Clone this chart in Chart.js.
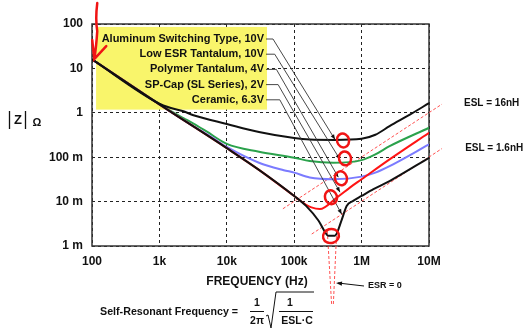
<!DOCTYPE html>
<html>
<head>
<meta charset="utf-8">
<script src="https://cdn.jsdelivr.net/npm/chart.js@4.4.1/dist/chart.umd.min.js"></script>
<style>
  html, body { margin: 0; padding: 0; background: #fff; }
</style>
</head>
<body>
<canvas id="myChart" width="529" height="331"></canvas>
<script>
// axes
var xTicks = [1e2, 1e3, 1e4, 1e5, 1e6, 1e7];
var xTickLabels = ['100', '1k', '10k', '100k', '1M', '10M'];
var yTicks = [1e-3, 1e-2, 1e-1, 1, 10, 100];
var yTickLabels = ['1 m', '10 m', '100 m', '1', '10', '100'];

var capNames = ['Aluminum Switching Type, 10V', 'Low ESR Tantalum, 10V', 'Polymer Tantalum, 4V', 'SP-Cap (SL Series), 2V', 'Ceramic, 6.3V'];
var capColors = ['#111111', '#2ba24c', '#7b7bff', '#ff1414', '#111111'];

// |Z| in ohm
var alumFreq = [100, 1e3, 1.44e3, 2.27e3, 3.2e3, 1e4, 3e4, 1e5, 1.7e5, 4e5, 1e6, 1.6e6, 2.6e6, 5.2e6, 1e7];
var alumZ = [16, 1.6, 1.3, 1.08, 0.88, 0.56, 0.37, 0.27, 0.25, 0.245, 0.26, 0.32, 0.5, 0.91, 1.65];

var tantFreq = [100, 1e3, 1.44e3, 2.27e3, 3.2e3, 5e3, 1e4, 3e4, 1e5, 1.7e5, 3.8e5, 1e6, 1.6e6, 2.6e6, 1e7];
var tantZ = [16, 1.58, 1.12, 0.76, 0.57, 0.38, 0.2, 0.133, 0.0975, 0.082, 0.075, 0.086, 0.116, 0.177, 0.46];

var polyFreq = [100, 1e3, 3e3, 6e3, 1e4, 3e4, 7e4, 1e5, 1.7e5, 3.8e5, 1e6, 1.6e6, 2.6e6, 1e7];
var polyZ = [16, 1.55, 0.53, 0.28, 0.17, 0.075, 0.051, 0.045, 0.035, 0.032, 0.0365, 0.045, 0.063, 0.194];

var spFreq = [100, 1e3, 1e4, 3e4, 1e5, 1.5e5, 1.8e5, 2.4e5, 4.3e5, 6.7e5, 1e6, 2.6e6, 1e7];
var spZ = [16, 1.55, 0.16, 0.052, 0.0134, 0.0085, 0.0074, 0.0068, 0.0124, 0.0207, 0.0318, 0.089, 0.354];

var ceramFreq = [100, 1e3, 1e4, 3e4, 1e5, 1.5e5, 2.3e5, 2.9e5, 3.2e5, 4e5, 5.1e5, 6e5, 7.5e5, 1e6, 1.5e6, 2.6e6, 1e7];
var ceramZ = [16, 1.55, 0.16, 0.052, 0.0134, 0.008, 0.0037, 0.002, 0.0017, 0.0017, 0.004, 0.008, 0.0104, 0.0134, 0.019, 0.029, 0.097];

// red dashed guide lines
var esl16Freq = [6.8e4, 1.56e7, 2.6e7];
var esl16Z = [0.0069, 1.57, 1.57];
var esl16Label = 'ESL = 16nH';
var esl1Freq = [1.82e5, 1.56e7, 2.8e7];
var esl1Z = [0.00186, 0.157, 0.157];
var esl1Label = 'ESL = 1.6nH';
var esrAFreq = [3.1e5, 3.6e5];
var esrAZ = [0.00217, 0.000045];
var esrBFreq = [4.27e5, 3.8e5];
var esrBZ = [0.00217, 0.000045];

// annotation anchors (Hz, ohm)
var boxFreq = [115, 3.95e4];
var boxZ = [86, 1.18];
var tipFreq = [4.03e5, 4.78e5, 4.51e5, 4.78e5, 5.07e5];
var tipZ = [0.25, 0.089, 0.0355, 0.0163, 0.0052];
var ringFreq = [5.3e5, 5.67e5, 4.94e5, 3.51e5, 3.51e5];
var ringZ = [0.238, 0.094, 0.0335, 0.01256, 0.00168];

var FONT = '"Liberation Sans", Arial, sans-serif';

function pts(f, z) {
  return f.map(function (v, i) { return { x: v, y: z[i] }; });
}
function px(chart, f, z) {
  return [chart.scales.x.getPixelForValue(f), chart.scales.y.getPixelForValue(z)];
}
function curve(f, z, color, order) {
  return {
    data: pts(f, z), showLine: true, borderColor: color, borderWidth: 2,
    pointRadius: 0, tension: 0.4, cubicInterpolationMode: 'monotone', order: order
  };
}
function guide(f, z) {
  return {
    data: pts(f, z), showLine: true, borderColor: 'rgba(255,50,50,0.85)', borderWidth: 1,
    borderDash: [3, 2], pointRadius: 0, tension: 0, clip: false, order: 10
  };
}
function arrowHead(ctx, from, to, len, wid) {
  var ang = Math.atan2(to[1] - from[1], to[0] - from[0]);
  ctx.beginPath();
  ctx.moveTo(to[0], to[1]);
  ctx.lineTo(to[0] - len * Math.cos(ang) + wid * Math.sin(ang), to[1] - len * Math.sin(ang) - wid * Math.cos(ang));
  ctx.lineTo(to[0] - len * Math.cos(ang) - wid * Math.sin(ang), to[1] - len * Math.sin(ang) + wid * Math.cos(ang));
  ctx.closePath();
  ctx.fill();
}

var decor = {
  id: 'decor',
  beforeDatasetsDraw: function (chart) {
    var ctx = chart.ctx, a = chart.chartArea;
    var p0 = px(chart, boxFreq[0], boxZ[0]), p1 = px(chart, boxFreq[1], boxZ[1]);
    ctx.save();
    ctx.fillStyle = '#f9f56b';
    ctx.fillRect(p0[0], p0[1], p1[0] - p0[0], p1[1] - p0[1]);
    ctx.strokeStyle = '#333';
    ctx.lineWidth = 1.5;
    ctx.strokeRect(a.left, a.top, a.right - a.left, a.bottom - a.top);
    ctx.restore();
  },
  afterDatasetsDraw: function (chart) {
    var ctx = chart.ctx, a = chart.chartArea;
    var boxR = px(chart, boxFreq[1], boxZ[1])[0];
    ctx.save();
    ctx.fillStyle = '#111';
    ctx.textBaseline = 'middle';

    // names + leader lines
    ctx.font = 'bold 11px ' + FONT;
    ctx.textAlign = 'right';
    for (var i = 0; i < capNames.length; i++) {
      var ry = a.top + 15 + 15.2 * i;
      ctx.fillText(capNames[i], boxR - 3, ry);
      var tip = px(chart, tipFreq[i], tipZ[i]);
      var corner = [boxR + 6 + 1.7 * i, ry];
      ctx.strokeStyle = '#333';
      ctx.lineWidth = 0.9;
      ctx.beginPath();
      ctx.moveTo(boxR - 1, ry);
      ctx.lineTo(corner[0], corner[1]);
      ctx.lineTo(tip[0], tip[1]);
      ctx.stroke();
      arrowHead(ctx, corner, tip, 5, 2);
    }

    // ESL labels
    ctx.textAlign = 'left';
    ctx.font = 'bold 10px ' + FONT;
    var e1 = px(chart, esl16Freq[2], esl16Z[2]);
    ctx.fillText(esl16Label, e1[0] + 7, e1[1] - 1);
    var e2 = px(chart, esl1Freq[2], esl1Z[2]);
    ctx.fillText(esl1Label, e2[0] + 6, e2[1]);

    // ESR = 0
    ctx.font = 'bold 9px ' + FONT;
    ctx.fillText('ESR = 0', 368, 286);
    ctx.strokeStyle = '#111';
    ctx.lineWidth = 1;
    ctx.beginPath();
    ctx.moveTo(364, 286);
    ctx.lineTo(338, 283);
    ctx.stroke();
    arrowHead(ctx, [364, 286], [336, 283], 6, 2.2);

    // axis titles
    ctx.textAlign = 'center';
    ctx.font = 'bold 12px ' + FONT;
    ctx.fillText('FREQUENCY (Hz)', 257, 282);
    ctx.font = 'bold 13px ' + FONT;
    ctx.fillText('Z', 18, 120);
    ctx.font = 'bold 11px ' + FONT;
    ctx.fillText('\u03A9', 37, 123);
    ctx.lineWidth = 1.3;
    ctx.beginPath();
    ctx.moveTo(9.5, 111); ctx.lineTo(9.5, 129);
    ctx.moveTo(25.5, 111); ctx.lineTo(25.5, 129);
    ctx.stroke();

    // self-resonant frequency formula
    ctx.textAlign = 'left';
    ctx.font = 'bold 10.7px ' + FONT;
    ctx.fillText('Self-Resonant Frequency =', 100, 312);
    ctx.textAlign = 'center';
    ctx.font = 'bold 10.5px ' + FONT;
    ctx.fillText('1', 257, 303);
    ctx.fillText('2\u03C0', 257, 321);
    ctx.fillText('1', 290, 303);
    ctx.fillText('ESL\u00B7C', 297, 321);
    ctx.lineWidth = 1;
    ctx.beginPath();
    ctx.moveTo(250, 311.5); ctx.lineTo(264, 311.5);
    ctx.moveTo(279, 311.5); ctx.lineTo(313, 311.5);
    ctx.stroke();
    ctx.beginPath();
    ctx.moveTo(266, 316);
    ctx.lineTo(268, 315);
    ctx.lineTo(271, 328);
    ctx.lineTo(276, 292);
    ctx.lineTo(314, 292);
    ctx.stroke();
    ctx.restore();
  },
  afterDraw: function (chart) {
    // red hand-drawn marks
    var ctx = chart.ctx;
    ctx.save();
    ctx.strokeStyle = '#f01414';
    ctx.fillStyle = '#f01414';
    ctx.lineWidth = 2.5;
    ctx.lineCap = 'round';
    for (var i = 0; i < ringFreq.length; i++) {
      var c = px(chart, ringFreq[i], ringZ[i]);
      var rx = i === 4 ? 8 : 6, ry = 7;
      ctx.beginPath();
      ctx.ellipse(c[0], c[1], rx, ry, -0.3, 0, Math.PI * 2);
      ctx.stroke();
    }
    var t = px(chart, 108, 16.2);
    ctx.beginPath();
    ctx.moveTo(t[0] + 3, t[1] - 56);
    ctx.quadraticCurveTo(t[0] + 1, t[1] - 40, t[0] + 3, t[1] - 28);
    ctx.quadraticCurveTo(t[0] + 2, t[1] - 12, t[0], t[1]);
    ctx.moveTo(t[0] - 2, t[1] - 19);
    ctx.lineTo(t[0], t[1]);
    ctx.lineTo(t[0] + 12, t[1] - 13);
    ctx.stroke();
    ctx.restore();
  }
};

var gridOpts = { color: '#222', lineWidth: 1, drawTicks: false };
var tickFont = { family: FONT, size: 12, weight: 'bold' };

var myChart = new Chart(document.getElementById('myChart'), {
  type: 'scatter',
  data: {
    datasets: [
      curve(ceramFreq, ceramZ, capColors[4], 0),
      curve(alumFreq, alumZ, capColors[0], 1),
      curve(spFreq, spZ, capColors[3], 2),
      curve(polyFreq, polyZ, capColors[2], 3),
      curve(tantFreq, tantZ, capColors[1], 4),
      guide(esl16Freq, esl16Z),
      guide(esl1Freq, esl1Z),
      guide(esrAFreq, esrAZ),
      guide(esrBFreq, esrBZ)
    ]
  },
  options: {
    responsive: false,
    animation: false,
    events: [],
    layout: { padding: { left: 0, right: 100, top: 24, bottom: 0 } },
    plugins: { legend: { display: false }, tooltip: { enabled: false } },
    scales: {
      x: {
        type: 'logarithmic', min: 100, max: 1e7,
        afterFit: function (s) { s.height = 85; },
        afterBuildTicks: function (s) { s.ticks = xTicks.map(function (v) { return { value: v }; }); },
        ticks: { autoSkip: false, maxRotation: 0, padding: 8, color: '#111', font: tickFont,
          callback: function (v, i) { return xTickLabels[i]; } },
        grid: gridOpts,
        border: { display: false, dash: [3, 3] }
      },
      y: {
        type: 'logarithmic', min: 1e-3, max: 100,
        afterFit: function (s) { s.width = 92; },
        afterBuildTicks: function (s) { s.ticks = yTicks.map(function (v) { return { value: v }; }); },
        ticks: { autoSkip: false, padding: 9, color: '#111', font: tickFont,
          callback: function (v, i) { return yTickLabels[i]; } },
        grid: gridOpts,
        border: { display: false, dash: [3, 3] }
      }
    }
  },
  plugins: [decor]
});
</script>
</body>
</html>
